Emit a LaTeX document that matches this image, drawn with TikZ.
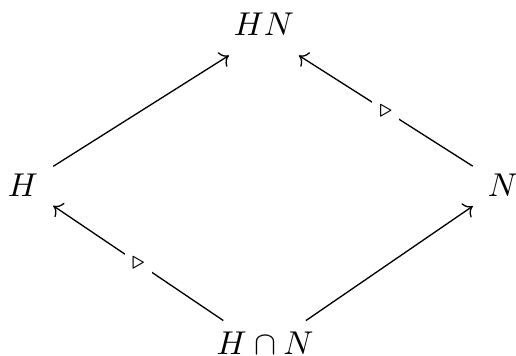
\documentclass[tikz,border=0pt]{standalone}
\usepackage{amsmath}
\usepackage{amssymb}
\usepackage{tikz}
\usetikzlibrary{arrows.meta, positioning}

\tikzset{
    grp/.style={anchor=base, inner xsep=4.4pt, inner ysep=3.5pt},
    inclus/.style={->, black, line width=0.4pt},
    normal/.style={fill=white, inner sep=2pt, font=\scriptsize}
}

\begin{document}
\begin{tikzpicture}[x=0.303pt, y=-0.303pt]
        % Cadre
        \useasboundingbox (0,0) rectangle (516,356);

        % --- Sous-groupes ---
        \node[grp, text depth=5.2pt, inner ysep=0.5pt] (hn) at (264,36) {$HN$};
        \node[grp] (h) at (23,196.7) {$H$};
        \node[grp] (n) at (503,196.7) {$N$};
        \node[grp, text depth=3pt, inner ysep=3.4pt] (hcapn) at (265,355) {$H\cap N$};

        % --- Inclusions ---
        \draw[inclus] (h) -- (hn);
        \draw[inclus] (n) -- node[normal] {$\triangleright$} (hn);
        \draw[inclus] (hcapn) -- node[normal] {$\triangleright$} (h);
        \draw[inclus] (hcapn) -- (n);
    \end{tikzpicture}
\end{document}
